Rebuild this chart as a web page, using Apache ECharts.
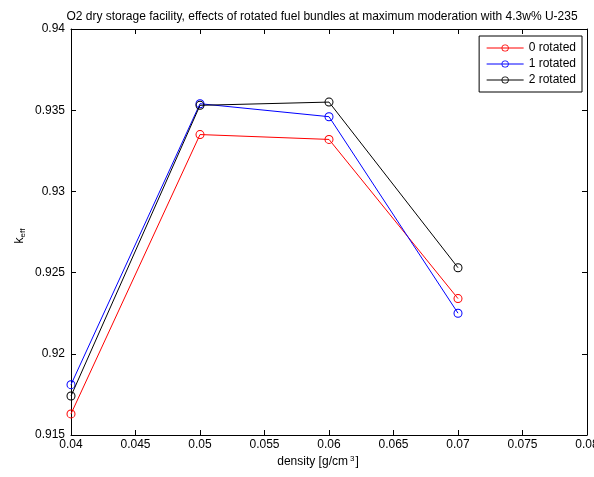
<!DOCTYPE html>
<html>
<head>
<meta charset="utf-8">
<script src="https://cdn.jsdelivr.net/npm/echarts@6/dist/echarts.min.js"></script>
<style>
  html, body { margin: 0; padding: 0; background: #fff; }
  #chart { width: 594px; height: 477px; }
</style>
</head>
<body>
<div id="chart"></div>
<script>
// Moderator density values (g/cm^3)
const densities = [0.04, 0.05, 0.06, 0.07];

// k_eff for each rotated-bundle configuration
const rotated0 = [0.9163, 0.9335, 0.9332, 0.9234];
const rotated1 = [0.9181, 0.9354, 0.9346, 0.9225];
const rotated2 = [0.9174, 0.9353, 0.9355, 0.9253];

const seriesNames = ['0 rotated', '1 rotated', '2 rotated'];
const seriesColors = ['#ff0000', '#0000ff', '#000000'];
const seriesValues = [rotated0, rotated1, rotated2];

const FONT = '"Liberation Sans", Arial, sans-serif';
const fmt = v => String(+v.toFixed(3));

// thin open-circle marker (outer ring minus inner disc)
const RING = 'path://M0,-4.5A4.5,4.5 0 1,1 0,4.5A4.5,4.5 0 1,1 0,-4.5Z' +
             'M0,-3.5A3.5,3.5 0 1,0 0,3.5A3.5,3.5 0 1,0 0,-3.5Z';

const chart = echarts.init(document.getElementById('chart'), null, { renderer: 'canvas' });

const axisCommon = {
  axisLine: { show: true, onZero: false, lineStyle: { color: '#000', width: 1 } },
  axisTick: { show: true, inside: true, length: 5, lineStyle: { color: '#000' } },
  splitLine: { show: false }
};

chart.setOption({
  animation: false,
  backgroundColor: '#fff',
  grid: { left: 71, right: 7, top: 29, bottom: 42, outerBoundsMode: 'none', containLabel: false },
  title: {
    text: 'O2 dry storage facility, effects of rotated fuel bundles at maximum moderation with 4.3w% U-235',
    left: 317, top: 6, textAlign: 'center',
    textStyle: { fontFamily: FONT, fontSize: 12, fontWeight: 'normal', color: '#000' }
  },
  legend: {
    right: 12, top: 36,
    orient: 'vertical',
    backgroundColor: '#fff',
    borderColor: '#000', borderWidth: 1, borderRadius: 0,
    padding: [5, 6, 5, 7],
    itemGap: 2,
    itemWidth: 37, itemHeight: 9,
    lineStyle: { width: 1 },
    textStyle: { fontFamily: FONT, fontSize: 12, lineHeight: 14, color: '#000' },
    data: seriesNames
  },
  xAxis: [
    Object.assign({
      type: 'value', min: 0.04, max: 0.08, interval: 0.005,
      axisLabel: { formatter: fmt, fontFamily: FONT, fontSize: 12, color: '#000', margin: 4 }
    }, axisCommon),
    Object.assign({
      type: 'value', position: 'top', min: 0.04, max: 0.08, interval: 0.005,
      axisLabel: { show: false }
    }, axisCommon)
  ],
  yAxis: [
    Object.assign({
      type: 'value', min: 0.915, max: 0.94, interval: 0.005,
      axisLabel: { formatter: fmt, fontFamily: FONT, fontSize: 12, color: '#000', margin: 6 }
    }, axisCommon),
    Object.assign({
      type: 'value', position: 'right', min: 0.915, max: 0.94, interval: 0.005,
      axisLabel: { show: false }
    }, axisCommon)
  ],
  series: seriesNames.map((name, i) => ({
    name: name,
    type: 'line',
    data: densities.map((d, j) => [d, seriesValues[i][j]]),
    symbol: RING,
    symbolSize: 9,
    showAllSymbol: true,
    color: seriesColors[i],
    lineStyle: { color: seriesColors[i], width: 1 },
    itemStyle: { color: seriesColors[i], borderWidth: 0 },
    emphasis: { disabled: true },
    z: 2 + i
  })),
  graphic: [
    {
      type: 'text',
      x: 20, y: 236,
      rotation: Math.PI / 2,
      style: {
        text: '{k|k}{s|eff}',
        align: 'center', verticalAlign: 'middle',
        rich: {
          k: { fontFamily: FONT, fontSize: 12, fill: '#000' },
          s: { fontFamily: FONT, fontSize: 8, fill: '#000', verticalAlign: 'bottom', padding: [5, 0, 0, 0] }
        }
      }
    },
    {
      type: 'text',
      x: 318, y: 462,
      style: {
        text: '{t|density [g/cm}{u|3}{t|]}',
        align: 'center', verticalAlign: 'middle',
        rich: {
          t: { fontFamily: FONT, fontSize: 12, fill: '#000' },
          u: { fontFamily: FONT, fontSize: 8, fill: '#000', verticalAlign: 'top', padding: [0, 1, 6, 2] }
        }
      }
    }
  ]
});
</script>
</body>
</html>
